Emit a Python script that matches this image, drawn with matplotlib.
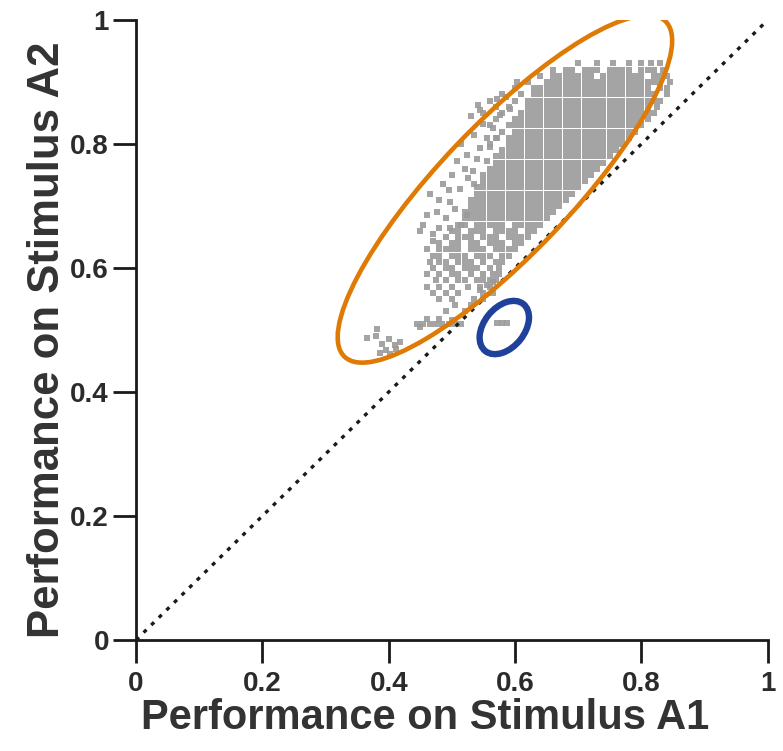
import matplotlib
matplotlib.use("Agg")
import matplotlib.pyplot as plt
from matplotlib.patches import Ellipse

plt.rcParams['font.family'] = ['Liberation Sans', 'DejaVu Sans']

# ---- data: performance values (lattice rows) ----
row_a2 = [0.93, 0.92, 0.91, 0.90, 0.89, 0.88, 0.87, 0.86, 0.85, 0.84, 0.83, 0.82,
          0.81, 0.80, 0.79, 0.78, 0.77, 0.76, 0.75, 0.74, 0.73, 0.72, 0.71, 0.70,
          0.69, 0.68, 0.67, 0.66, 0.65, 0.64, 0.63, 0.62, 0.61, 0.60, 0.59, 0.58,
          0.57, 0.56, 0.55, 0.54, 0.53, 0.51]
row_a1 = [
    [0.70, 0.73, 0.755, 0.78, 0.80, 0.815, 0.83],
    [0.66, 0.68, 0.69, 0.71, 0.72, 0.73, 0.75, 0.76, 0.77, 0.78, 0.80, 0.81, 0.82, 0.835],
    [0.64, 0.66, 0.67, 0.68, 0.69, 0.70, 0.71, 0.72, 0.74, 0.75, 0.76, 0.77, 0.78, 0.79, 0.80, 0.82, 0.83, 0.84],
    [0.62, 0.65, 0.66, 0.67, 0.68, 0.69, 0.70, 0.71, 0.72, 0.73, 0.74, 0.75, 0.76, 0.77, 0.78, 0.79, 0.80, 0.81, 0.82, 0.83, 0.845],
    [0.60, 0.63, 0.64, 0.65, 0.66, 0.67, 0.68, 0.69, 0.70, 0.71, 0.72, 0.73, 0.74, 0.75, 0.76, 0.77, 0.78, 0.79, 0.80, 0.81, 0.83, 0.84],
    [0.58, 0.61, 0.63, 0.64, 0.65, 0.66, 0.67, 0.68, 0.69, 0.70, 0.71, 0.72, 0.73, 0.74, 0.75, 0.76, 0.77, 0.78, 0.79, 0.80, 0.81, 0.82, 0.84],
    [0.56, 0.60, 0.62, 0.63, 0.64, 0.65, 0.66, 0.67, 0.68, 0.69, 0.70, 0.71, 0.72, 0.73, 0.74, 0.75, 0.76, 0.77, 0.78, 0.79, 0.80, 0.81, 0.82, 0.83],
    [0.57, 0.59, 0.62, 0.63, 0.64, 0.65, 0.66, 0.67, 0.68, 0.69, 0.70, 0.71, 0.72, 0.73, 0.74, 0.75, 0.76, 0.77, 0.78, 0.79, 0.80, 0.81, 0.825],
    [0.55, 0.58, 0.61, 0.62, 0.63, 0.64, 0.65, 0.66, 0.67, 0.68, 0.69, 0.70, 0.71, 0.72, 0.73, 0.74, 0.75, 0.76, 0.77, 0.78, 0.79, 0.80, 0.81, 0.82],
    [0.57, 0.60, 0.61, 0.62, 0.63, 0.64, 0.65, 0.66, 0.67, 0.68, 0.69, 0.70, 0.71, 0.72, 0.73, 0.74, 0.75, 0.76, 0.77, 0.78, 0.79, 0.80, 0.81],
    [0.56, 0.59, 0.60, 0.61, 0.62, 0.63, 0.64, 0.65, 0.66, 0.67, 0.68, 0.69, 0.70, 0.71, 0.72, 0.73, 0.74, 0.75, 0.76, 0.77, 0.78, 0.79, 0.80],
    [0.58, 0.60, 0.61, 0.62, 0.63, 0.64, 0.65, 0.66, 0.67, 0.68, 0.69, 0.70, 0.71, 0.72, 0.73, 0.74, 0.75, 0.76, 0.77, 0.78, 0.79],
    [0.57, 0.59, 0.60, 0.61, 0.62, 0.63, 0.64, 0.65, 0.66, 0.67, 0.68, 0.69, 0.70, 0.71, 0.72, 0.73, 0.74, 0.75, 0.76, 0.77, 0.78],
    [0.56, 0.59, 0.60, 0.61, 0.62, 0.63, 0.64, 0.65, 0.66, 0.67, 0.68, 0.69, 0.70, 0.71, 0.72, 0.73, 0.74, 0.75, 0.76, 0.77],
    [0.58, 0.59, 0.60, 0.61, 0.62, 0.63, 0.64, 0.65, 0.66, 0.67, 0.68, 0.69, 0.70, 0.71, 0.72, 0.73, 0.74, 0.75, 0.76],
    [0.57, 0.58, 0.59, 0.60, 0.61, 0.62, 0.63, 0.64, 0.65, 0.66, 0.67, 0.68, 0.69, 0.70, 0.71, 0.72, 0.73, 0.74, 0.75],
    [0.57, 0.58, 0.59, 0.60, 0.61, 0.62, 0.63, 0.64, 0.65, 0.66, 0.67, 0.68, 0.69, 0.70, 0.71, 0.72, 0.73, 0.74],
    [0.56, 0.57, 0.58, 0.59, 0.60, 0.61, 0.62, 0.63, 0.64, 0.65, 0.66, 0.67, 0.68, 0.69, 0.70, 0.71, 0.72, 0.73],
    [0.55, 0.56, 0.57, 0.58, 0.59, 0.60, 0.61, 0.62, 0.63, 0.64, 0.65, 0.66, 0.67, 0.68, 0.69, 0.70, 0.71, 0.72],
    [0.55, 0.56, 0.57, 0.58, 0.59, 0.60, 0.61, 0.62, 0.63, 0.64, 0.65, 0.66, 0.67, 0.68, 0.69, 0.70, 0.71],
    [0.54, 0.55, 0.56, 0.57, 0.58, 0.59, 0.60, 0.61, 0.62, 0.63, 0.64, 0.65, 0.66, 0.67, 0.68, 0.69, 0.70],
    [0.54, 0.55, 0.56, 0.57, 0.58, 0.59, 0.60, 0.61, 0.62, 0.63, 0.64, 0.65, 0.66, 0.67, 0.68, 0.69],
    [0.53, 0.54, 0.55, 0.56, 0.57, 0.58, 0.59, 0.60, 0.61, 0.62, 0.63, 0.64, 0.65, 0.66, 0.67, 0.68],
    [0.53, 0.54, 0.55, 0.56, 0.57, 0.58, 0.59, 0.60, 0.61, 0.62, 0.63, 0.64, 0.65, 0.66, 0.67],
    [0.52, 0.53, 0.54, 0.55, 0.56, 0.57, 0.58, 0.59, 0.60, 0.61, 0.62, 0.63, 0.64, 0.65, 0.66],
    [0.52, 0.53, 0.54, 0.55, 0.56, 0.57, 0.58, 0.59, 0.60, 0.61, 0.62, 0.63, 0.64, 0.65],
    [0.51, 0.52, 0.54, 0.55, 0.56, 0.57, 0.58, 0.60, 0.61, 0.62, 0.63, 0.64],
    [0.50, 0.51, 0.53, 0.54, 0.55, 0.57, 0.58, 0.59, 0.60, 0.62, 0.63],
    [0.49, 0.51, 0.52, 0.53, 0.55, 0.56, 0.57, 0.59, 0.60, 0.61, 0.62],
    [0.48, 0.50, 0.51, 0.53, 0.54, 0.56, 0.57, 0.58, 0.60, 0.61],
    [0.46, 0.48, 0.49, 0.50, 0.51, 0.53, 0.54, 0.55, 0.57, 0.58, 0.59, 0.60],
    [0.47, 0.48, 0.50, 0.51, 0.52, 0.54, 0.55, 0.56, 0.58, 0.59],
    [0.465, 0.48, 0.49, 0.51, 0.52, 0.53, 0.55, 0.57, 0.58],
    [0.47, 0.49, 0.50, 0.52, 0.53, 0.54, 0.56, 0.575],
    [0.46, 0.48, 0.50, 0.51, 0.53, 0.55, 0.565],
    [0.475, 0.49, 0.51, 0.52, 0.54, 0.56, 0.57],
    [0.46, 0.48, 0.50, 0.525, 0.545, 0.56],
    [0.47, 0.49, 0.51, 0.55, 0.565],
    [0.48, 0.50, 0.535, 0.55],
    [0.505, 0.53],
    [0.49, 0.52],
    [0.445, 0.455, 0.465, 0.475, 0.485, 0.495, 0.505, 0.515],
]

# scattered individual runs (A1, A2)
scatter_a1 = [0.541, 0.576, 0.549, 0.592, 0.571, 0.544, 0.524, 0.508, 0.555, 0.533,
              0.486, 0.513, 0.465, 0.497, 0.476, 0.524, 0.454, 0.497, 0.470, 0.449,
              0.571, 0.530, 0.515, 0.500, 0.525, 0.480, 0.505, 0.460, 0.490, 0.535,
              0.565, 0.545, 0.585, 0.520, 0.470, 0.480, 0.515, 0.495, 0.535, 0.540,
              0.560, 0.555, 0.603,
              0.365, 0.381, 0.386, 0.395, 0.402, 0.410, 0.418, 0.412, 0.390, 0.380, 0.400,
              0.545, 0.555, 0.565, 0.550, 0.575,
              0.572, 0.580, 0.588,
              0.460, 0.480, 0.500, 0.450]
scatter_a2 = [0.863, 0.847, 0.833, 0.857, 0.809, 0.793, 0.783, 0.772, 0.772, 0.756,
              0.735, 0.728, 0.719, 0.707, 0.691, 0.686, 0.670, 0.664, 0.643, 0.659,
              0.873, 0.845, 0.800, 0.750, 0.745, 0.710, 0.695, 0.685, 0.680, 0.815,
              0.825, 0.855, 0.875, 0.760, 0.655, 0.665, 0.670, 0.725, 0.735, 0.775,
              0.795, 0.810, 0.900,
              0.487, 0.502, 0.463, 0.468, 0.462, 0.475, 0.480, 0.470, 0.478, 0.490, 0.485,
              0.565, 0.572, 0.578, 0.580, 0.590,
              0.511, 0.512, 0.511,
              0.517, 0.518, 0.516, 0.505]

identity = [0.0, 1.0]
ticks = [0, 0.2, 0.4, 0.6, 0.8, 1]
tick_labels = ['0', '0.2', '0.4', '0.6', '0.8', '1']

# ---- build point table ----
pts_x, pts_y = [], []
for yv, xs in zip(row_a2, row_a1):
    for xv in xs:
        pts_x.append(xv)
        pts_y.append(yv)
pts_x += scatter_a1
pts_y += scatter_a2

fig = plt.figure(figsize=(7.83, 7.51), dpi=100)
ax = fig.add_axes([0.1737, 0.1478, 0.8068, 0.8256])

ax.scatter(pts_x, pts_y, s=14, marker='s', c='#9a9a9a', linewidths=0, alpha=0.9, zorder=2)

ax.plot(identity, identity, color='#1a1a1a', lw=2.4, linestyle=(0, (1.2, 2.0)),
        dash_capstyle='butt', zorder=3)

# annotation ellipses
ax.add_patch(Ellipse((0.584, 0.7275), 2 * 232.3 / 626, 2 * 65.3 / 626, angle=46.9,
                     fill=False, edgecolor='#df7a05', lw=3.3, zorder=4))
ax.add_patch(Ellipse((0.583, 0.504), 2 * 30.3 / 626, 2 * 20.1 / 626, angle=52,
                     fill=False, edgecolor='#1f419a', lw=4.6, zorder=4))

ax.set_xlim(0, 1)
ax.set_ylim(0, 1)
for s in ['top', 'right']:
    ax.spines[s].set_visible(False)
for s in ['left', 'bottom']:
    ax.spines[s].set_linewidth(2.0)
    ax.spines[s].set_color('#1a1a1a')

ax.set_xticks(ticks)
ax.set_xticklabels(tick_labels)
ax.set_yticks(ticks)
ax.set_yticklabels(tick_labels)
ax.tick_params(direction='out', length=16.5, width=2.0, color='#1a1a1a',
               labelsize=20, labelcolor='#2b2b2b')
ax.tick_params(axis='x', pad=6)
ax.tick_params(axis='y', pad=3)
for lab in ax.get_xticklabels() + ax.get_yticklabels():
    lab.set_fontweight('bold')

fig.text(0.543, 0.044, 'Performance on Stimulus A1', ha='center', va='center',
         fontsize=30, fontweight='bold', color='#333333')
fig.text(0.061, 0.548, 'Performance on Stimulus A2', ha='center', va='center',
         rotation=90, fontsize=31.5, fontweight='bold', color='#333333')

fig.savefig('out.png', dpi=100)
